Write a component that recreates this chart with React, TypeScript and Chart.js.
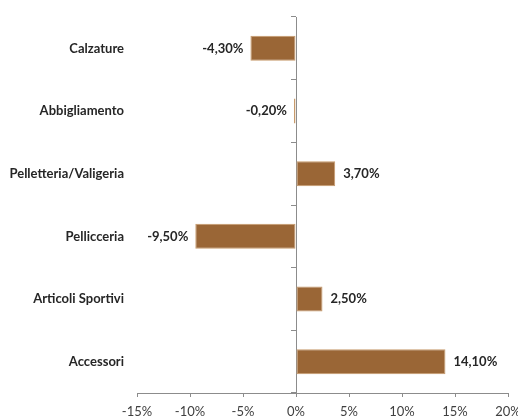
import React, { useEffect, useRef } from "react";
import { Chart, registerables } from "chart.js";

Chart.register(...registerables);

const categories = [
  "Calzature",
  "Abbigliamento",
  "Pelletteria/Valigeria",
  "Pellicceria",
  "Articoli Sportivi",
  "Accessori",
];
const variations = [-4.3, -0.2, 3.7, -9.5, 2.5, 14.1];
const xTicks = [-15, -10, -5, 0, 5, 10, 15, 20];

const BAR_FILL = "#9a6636";
const BAR_EDGE = "#c79a6c";
const AXIS_GREY = "#8c8c8c";
const TEXT_DARK = "#262626";
const FONT = "Lato, 'Open Sans', sans-serif";

const fmtPct = (v: number) => v.toFixed(2).replace(".", ",") + "%";

const valueLabels = {
  id: "valueLabels",
  afterDatasetsDraw(chart: any) {
    const { ctx } = chart;
    const meta = chart.getDatasetMeta(0);
    ctx.save();
    ctx.font = `bold 13px ${FONT}`;
    ctx.fillStyle = TEXT_DARK;
    ctx.textBaseline = "middle";
    meta.data.forEach((bar: any, i: number) => {
      const v = variations[i];
      const text = fmtPct(v);
      if (v < 0) {
        ctx.textAlign = "right";
        ctx.fillText(text, Math.min(bar.x, bar.base) - 7, bar.y);
      } else {
        ctx.textAlign = "left";
        ctx.fillText(text, Math.max(bar.x, bar.base) + 8, bar.y);
      }
    });
    ctx.restore();
  },
};

export default function App() {
  const ref = useRef<HTMLCanvasElement | null>(null);

  useEffect(() => {
    if (!ref.current) return;
    const chart = new Chart(ref.current, {
      type: "bar",
      data: {
        labels: categories,
        datasets: [
          {
            data: variations,
            backgroundColor: BAR_FILL,
            borderColor: BAR_EDGE,
            borderWidth: 1,
            borderSkipped: false,
            categoryPercentage: 1,
            barPercentage: 0.4,
            yAxisID: "y",
          },
        ],
      },
      options: {
        indexAxis: "y",
        animation: false,
        responsive: false,
        maintainAspectRatio: false,
        layout: { padding: { top: 17, right: 10, left: 0, bottom: 0 } },
        plugins: {
          legend: { display: false },
          tooltip: { enabled: false },
        },
        scales: {
          x: {
            type: "linear",
            axis: "x",
            position: "bottom",
            min: -15,
            max: 20,
            afterBuildTicks: (scale: any) => {
              scale.ticks = xTicks.map((v) => ({ value: v }));
            },
            afterFit: (scale: any) => {
              scale.height = 26;
              scale.paddingLeft = 0;
              scale.paddingRight = 0;
            },
            border: { display: true, color: AXIS_GREY, width: 1 },
            grid: {
              drawOnChartArea: false,
              drawTicks: true,
              tickLength: 4,
              color: AXIS_GREY,
            },
            ticks: {
              padding: 7,
              color: "#404040",
              font: { family: FONT, size: 13 },
              maxRotation: 0,
              callback: (v: any) => `${v}%`,
            },
          },
          y: {
            type: "category",
            axis: "y",
            position: "left",
            afterFit: (scale: any) => {
              scale.width = 137;
              scale.paddingTop = 0;
              scale.paddingBottom = 0;
            },
            border: { display: false },
            grid: { display: false, drawTicks: false },
            ticks: {
              padding: 13,
              color: TEXT_DARK,
              font: { family: FONT, size: 13, weight: "bold" },
            },
          },
          zeroAxis: {
            type: "category",
            axis: "y",
            position: { x: 0 },
            labels: categories,
            border: { display: true, color: AXIS_GREY, width: 1 },
            grid: {
              offset: true,
              drawOnChartArea: false,
              drawTicks: true,
              tickLength: 5,
              color: AXIS_GREY,
            },
            ticks: { display: false },
          },
        },
      } as any,
      plugins: [valueLabels],
    });
    return () => chart.destroy();
  }, []);

  return (
    <div style={{ position: "fixed", left: 0, top: 0, width: 518, height: 419, background: "#fff" }}>
      <canvas ref={ref} width={518} height={419} style={{ width: 518, height: 419 }} />
    </div>
  );
}
